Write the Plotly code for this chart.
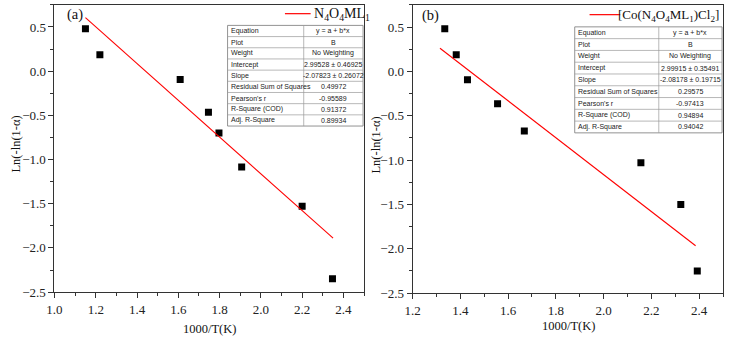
import plotly.graph_objects as go

W, H = 730, 348

# ---------------- data ----------------
xa = [1.15, 1.22, 1.609, 1.746, 1.797, 1.907, 2.20, 2.347]
ya = [0.48, 0.187, -0.093, -0.466, -0.70, -1.085, -1.528, -2.35]
xb = [1.335, 1.383, 1.430, 1.556, 1.668, 2.156, 2.323, 2.392]
yb = [0.48, 0.187, -0.093, -0.366, -0.672, -1.03, -1.502, -2.25]

fit_a = (2.99528, -2.07823)
fit_b = (2.99915, -2.08178)
fit_xa = [1.15, 2.35]
fit_xb = [1.315, 2.385]

series_a = "N<sub>4</sub>O<sub>4</sub>ML<sub>1</sub>"
series_b = "[Co(N<sub>4</sub>O<sub>4</sub>ML<sub>1</sub>)Cl<sub>2</sub>]"

table_labels = ["Equation", "Plot", "Weight", "Intercept", "Slope",
                "Residual Sum of Squares", "Pearson's r", "R-Square (COD)", "Adj. R-Square"]
table_a = ["y = a + b*x", "B", "No Weighting", "2.99528 ± 0.46925", "-2.07823 ± 0.26072",
           "0.49972", "-0.95589", "0.91372", "0.89934"]
table_b = ["y = a + b*x", "B", "No Weighting", "2.99915 ± 0.35491", "-2.08178 ± 0.19715",
           "0.29575", "-0.97413", "0.94894", "0.94042"]

# ---------------- helpers ----------------
def px(x):
    return x / W

def py(y):
    return 1 - y / H

SERIF = "Liberation Serif"
SANS = "Liberation Sans"

fig = go.Figure()

fig.add_trace(go.Scatter(x=xa, y=ya, mode="markers",
                         marker=dict(symbol="square", size=7, color="black"),
                         xaxis="x", yaxis="y", showlegend=False))
fig.add_trace(go.Scatter(x=fit_xa, y=[fit_a[0] + fit_a[1] * v for v in fit_xa], mode="lines",
                         line=dict(color="red", width=1.1), xaxis="x", yaxis="y", showlegend=False))
fig.add_trace(go.Scatter(x=xb, y=yb, mode="markers",
                         marker=dict(symbol="square", size=7, color="black"),
                         xaxis="x2", yaxis="y2", showlegend=False))
fig.add_trace(go.Scatter(x=fit_xb, y=[fit_b[0] + fit_b[1] * v for v in fit_xb], mode="lines",
                         line=dict(color="red", width=1.1), xaxis="x2", yaxis="y2", showlegend=False))

def axis_common():
    return dict(showgrid=False, zeroline=False, showline=True, linecolor="#333",
                linewidth=1, mirror=True, ticks="outside", ticklen=5, tickwidth=1,
                tickcolor="#333", tickfont=dict(family=SERIF, size=13, color="#222"))

fig.update_layout(
    width=W, height=H, margin=dict(l=0, r=0, t=0, b=0),
    paper_bgcolor="white", plot_bgcolor="white",
    font=dict(family=SERIF, size=13, color="#222"),
    xaxis=dict(domain=[px(47), px(360)], range=[1.0, 2.5], dtick=0.2, tick0=1.0,
               tickformat=".1f", anchor="y",
               minor=dict(ticks="outside", ticklen=3, dtick=0.1, tickcolor="#333"),
               **axis_common()),
    yaxis=dict(domain=[py(299), py(5)], range=[-2.5, 0.75], dtick=0.5, tick0=0,
               tickformat=".1f", anchor="x",
               minor=dict(ticks="outside", ticklen=3, dtick=0.25, tickcolor="#333"),
               **axis_common()),
    xaxis2=dict(domain=[px(409), px(723)], range=[1.2, 2.5], dtick=0.2, tick0=1.2,
                tickformat=".1f", anchor="y2",
                minor=dict(ticks="outside", ticklen=3, dtick=0.1, tickcolor="#333"),
                **axis_common()),
    yaxis2=dict(domain=[py(300), py(5)], range=[-2.5, 0.75], dtick=0.5, tick0=0,
                tickformat=".1f", anchor="x2",
                minor=dict(ticks="outside", ticklen=3, dtick=0.25, tickcolor="#333"),
                **axis_common()),
)

shapes = []
annotations = []

def add_text(x, y, text, size, family, xanchor="center", textangle=0, color="#111"):
    annotations.append(dict(x=px(x), y=py(y), xref="paper", yref="paper", text=text,
                            showarrow=False, xanchor=xanchor, yanchor="middle",
                            textangle=textangle,
                            font=dict(family=family, size=size, color=color)))

# axis titles
add_text(204, 337, "1000/T(K)", 12.5, SERIF)
add_text(567, 334, "1000/T(K)", 12.5, SERIF)
add_text(8, 147, "Ln(-ln(1-α)", 12.5, SERIF, textangle=-90)
add_text(372, 148, "Ln(-ln(1-α)", 12.5, SERIF, textangle=-90)

# panel labels
add_text(68, 15, "(a)", 14.5, SERIF)
add_text(427, 16, "(b)", 14.5, SERIF)

# legends
shapes.append(dict(type="line", xref="paper", yref="paper",
                   x0=px(280), x1=px(306), y0=py(14), y1=py(14),
                   line=dict(color="red", width=1.2)))
add_text(307, 15, series_a, 14, SERIF, xanchor="left")
shapes.append(dict(type="line", xref="paper", yref="paper",
                   x0=px(588), x1=px(619), y0=py(15), y1=py(15),
                   line=dict(color="red", width=1.2)))
add_text(721, 16, series_b, 13, SERIF, xanchor="right")

# stats tables
def add_table(left, right, divider, top, bottom, values):
    n = len(table_labels)
    rh = (bottom - top) / n
    shapes.append(dict(type="rect", xref="paper", yref="paper",
                       x0=px(left), x1=px(right), y0=py(bottom), y1=py(top),
                       fillcolor="white", line=dict(color="#777", width=0.8)))
    for i in range(1, n):
        yy = top + i * rh
        shapes.append(dict(type="line", xref="paper", yref="paper",
                           x0=px(left), x1=px(right), y0=py(yy), y1=py(yy),
                           line=dict(color="#999", width=0.7)))
    shapes.append(dict(type="line", xref="paper", yref="paper",
                       x0=px(divider), x1=px(divider), y0=py(bottom), y1=py(top),
                       line=dict(color="#999", width=0.7)))
    for i, (lab, val) in enumerate(zip(table_labels, values)):
        yc = top + (i + 0.5) * rh
        add_text(left + 1.5, yc, lab, 7, SANS, xanchor="left", color="#222")
        add_text((divider + right) / 2, yc, val, 7, SANS, color="#222")

add_table(222, 359, 299, 26, 129, table_a)
add_table(573, 722, 658, 27.5, 136, table_b)

fig.update_layout(shapes=shapes, annotations=annotations)

fig.write_html("out.html")
